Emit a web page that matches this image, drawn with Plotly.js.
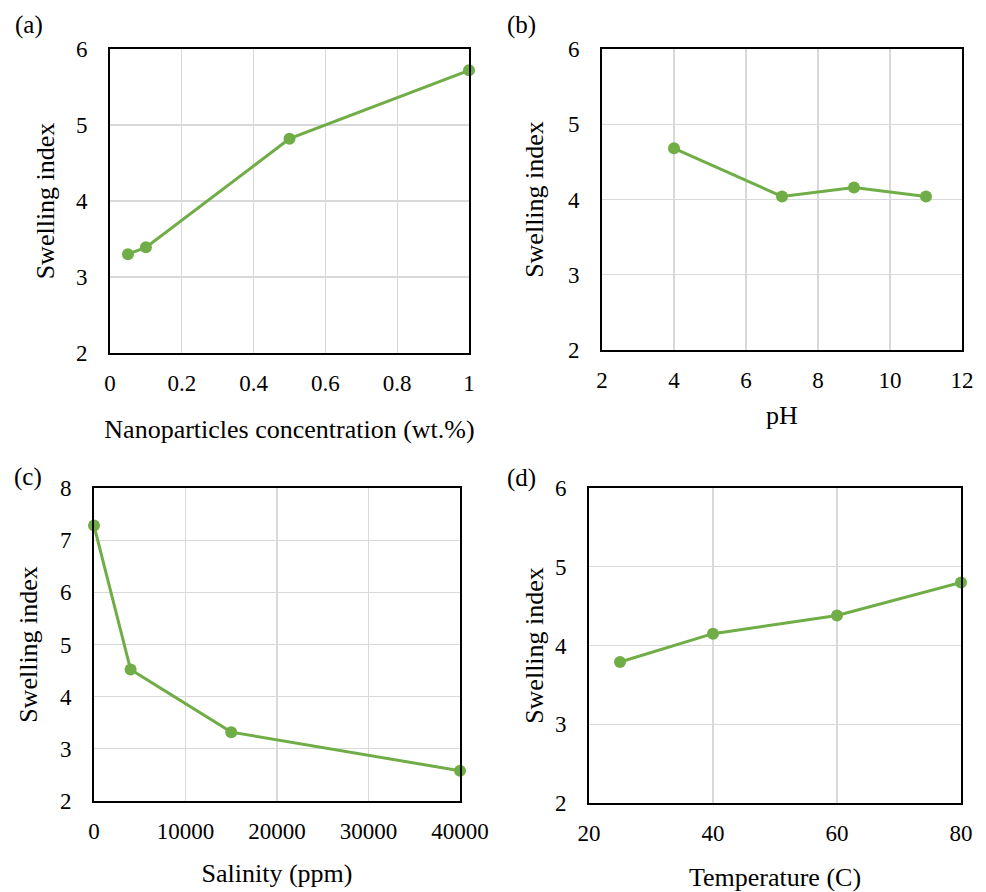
<!DOCTYPE html>
<html>
<head>
<meta charset="utf-8">
<script src="https://cdn.plot.ly/plotly-3.0.1.min.js"></script>
<style>html,body{margin:0;padding:0;background:#fff;}#chart{width:986px;height:892px;}</style>
</head>
<body>
<div id="chart"></div>
<script>
// Panel (a): nanoparticle concentration
const concX = [0.05, 0.1, 0.5, 1];
const concY = [3.30, 3.39, 4.82, 5.72];
// Panel (b): pH
const phX = [4, 7, 9, 11];
const phY = [4.68, 4.04, 4.16, 4.04];
// Panel (c): salinity
const salX = [0, 4000, 15000, 40000];
const salY = [7.28, 4.52, 3.32, 2.58];
// Panel (d): temperature
const tempX = [25, 40, 60, 80];
const tempY = [3.79, 4.15, 4.38, 4.80];

const panelLabels = ['(a)', '(b)', '(c)', '(d)'];
const xTitles = ['Nanoparticles concentration (wt.%)', 'pH', 'Salinity (ppm)', 'Temperature (C)'];
const yTitle = 'Swelling index';

const W = 986, H = 892;
const green = '#70ad47';
const FONT = 'Liberation Serif';

function trace(x, y, xa, ya) {
  return {
    x: x, y: y, xaxis: xa, yaxis: ya, type: 'scatter', mode: 'lines+markers',
    line: {color: green, width: 3}, marker: {color: green, size: 12},
    cliponaxis: false, showlegend: false, hoverinfo: 'x+y'
  };
}

function xdom(a, b) { return [a / W, b / W]; }
function ydom(top, bottom) { return [1 - bottom / H, 1 - top / H]; }

function axis(base) {
  return Object.assign({
    showline: true, mirror: true, linecolor: '#000', linewidth: 2,
    showgrid: true, gridcolor: '#d9d9d9', gridwidth: 1.3, zeroline: false,
    ticks: '', tickfont: {family: FONT, size: 23, color: '#000'},
    tickformat: 'd', fixedrange: true
  }, base);
}

const data = [
  trace(concX, concY, 'x', 'y'),
  trace(phX, phY, 'x2', 'y2'),
  trace(salX, salY, 'x3', 'y3'),
  trace(tempX, tempY, 'x4', 'y4')
];

function xa(domain, anchor, range, dtick, title, standoff, fmt) {
  const a = axis({domain: domain, anchor: anchor, range: range, dtick: dtick, tick0: range[0], ticklabelstandoff: 8});
  a.tickformat = fmt;
  a.title = {text: title, standoff: standoff, font: {family: FONT, size: 26, color: '#000'}};
  return a;
}
function ya(domain, anchor, range, standoff) {
  const a = axis({domain: domain, anchor: anchor, range: range, dtick: 1, tick0: range[0], ticklabelstandoff: 16});
  a.title = {text: yTitle, standoff: standoff, font: {family: FONT, size: 26, color: '#000'}};
  return a;
}

const layout = {
  width: W, height: H,
  margin: {l: 0, r: 0, t: 0, b: 0},
  paper_bgcolor: '#fff', plot_bgcolor: '#fff',
  font: {family: FONT, color: '#000'},
  showlegend: false,
  xaxis:  xa(xdom(110, 469), 'y',  [0, 1], 0.2, xTitles[0], 25, ''),
  yaxis:  ya(ydom(49, 353),  'x',  [2, 6], 14),
  xaxis2: xa(xdom(602, 962), 'y2', [2, 12], 2, xTitles[1], 14, 'd'),
  yaxis2: ya(ydom(49, 350),  'x2', [2, 6], 17),
  xaxis3: xa(xdom(94, 460),  'y3', [0, 40000], 10000, xTitles[2], 21, 'd'),
  yaxis3: ya(ydom(488, 801), 'x3', [2, 8], 15),
  xaxis4: xa(xdom(589, 961), 'y4', [20, 80], 20, xTitles[3], 30, 'd'),
  yaxis4: ya(ydom(488, 803), 'x4', [2, 6], 4),
  annotations: [
    {text: panelLabels[0], x: 28.5 / W, y: 1 - 25 / H},
    {text: panelLabels[1], x: 521 / W, y: 1 - 25 / H},
    {text: panelLabels[2], x: 28 / W, y: 1 - 477 / H},
    {text: panelLabels[3], x: 521 / W, y: 1 - 478 / H}
  ].map(a => Object.assign({xref: 'paper', yref: 'paper', showarrow: false,
    xanchor: 'center', yanchor: 'middle', font: {family: FONT, size: 25, color: '#000'}}, a))
};

Plotly.newPlot('chart', data, layout, {staticPlot: true, displayModeBar: false});
</script>
</body>
</html>
